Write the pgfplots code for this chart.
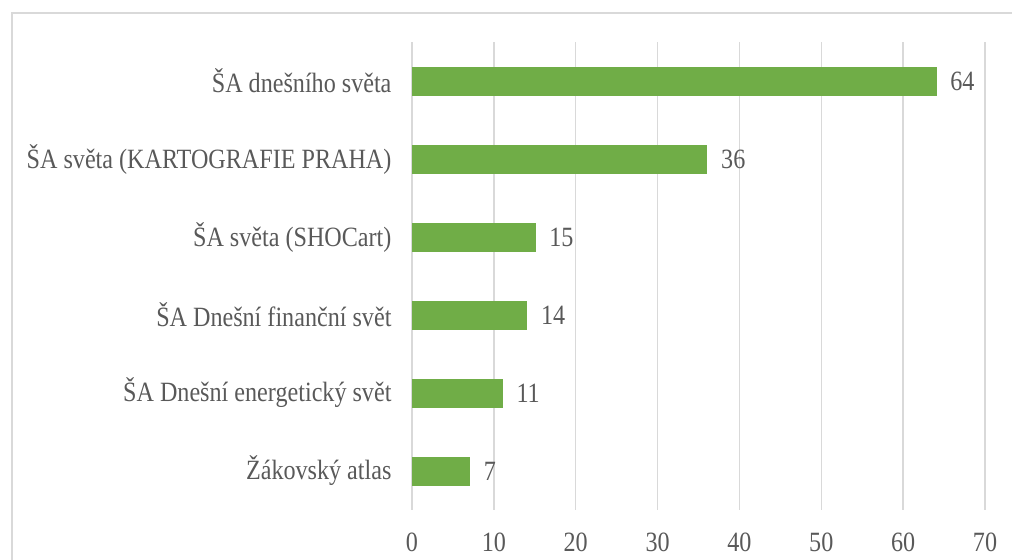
\documentclass[border=0pt]{standalone}
\usepackage{fontspec}
\setmainfont[FakeStretch=0.865]{Liberation Serif}
\usepackage{pgfplots}
\pgfplotsset{compat=1.18}
\definecolor{bargreen}{HTML}{70AD47}
\definecolor{txtgray}{HTML}{595959}
\definecolor{gridgray}{HTML}{D9D9D9}
\begin{document}
\begin{tikzpicture}
\useasboundingbox (0,0) rectangle (1012bp,560bp);
\draw[gridgray, line width=1.5bp] (12bp,-5bp) -- (12bp,547bp) -- (1020bp,547bp);
\begin{axis}[
  at={(412bp,50bp)}, anchor=south west,
  scale only axis,
  width=573bp, height=468bp,
  xmin=0, xmax=70,
  ymin=-0.5, ymax=5.5,
  xbar, bar width=27.5bp,
  xtick={0,10,...,70},
  ytick={0,...,5},
  yticklabels={Žákovský atlas\ ,ŠA Dnešní energetický svět,ŠA Dnešní finanční svět,ŠA světa (SHOCart),ŠA světa (KARTOGRAFIE PRAHA),ŠA dnešního světa},
  major tick length=0,
  axis line style={draw=none},
  xmajorgrids, ymajorgrids=false,
  major grid style={gridgray, line width=1.3bp},
  /pgf/number format/assume math mode=true,
  ticklabel style={font=\fontsize{28}{32}\selectfont, text=txtgray},
  yticklabel style={xshift=-17bp},
  xticklabel style={yshift=-19bp},
  nodes near coords,
  every node near coord/.append style={font=\fontsize{28}{32}\selectfont, text=txtgray, anchor=west, xshift=11bp},
]
\addplot[fill=bargreen, draw=bargreen] coordinates {
(7,0) (11,1) (14,2) (15,3) (36,4) (64,5)
};
\end{axis}
\end{tikzpicture}
\end{document}
